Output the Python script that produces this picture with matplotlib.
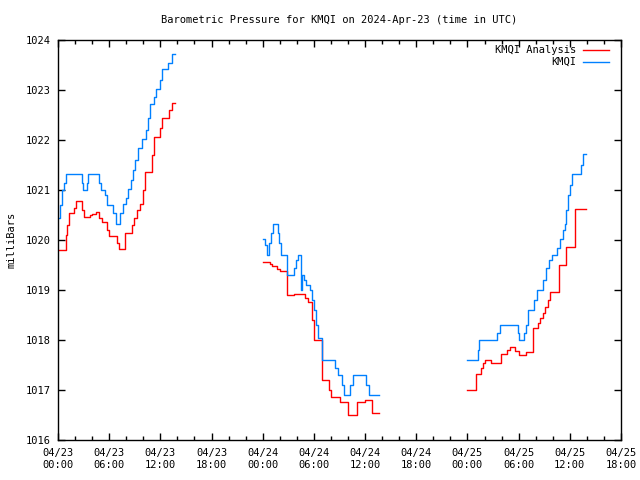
import matplotlib
matplotlib.use('Agg')
import matplotlib.pyplot as plt
import matplotlib.dates as mdates
import numpy as np
import pandas as pd

nan = float('nan')

# hours since 2024-04-23 00:00 UTC, nan rows break the line
analysis_hours = [0.0, 0.9, 1.1, 1.3, 1.9, 2.1, 2.85, 3.05, 3.7, 4.0, 4.5, 4.85, 5.1, 5.8, 6.0,
                  6.95, 7.1, 7.9, 8.7, 8.95, 9.3, 9.6, 10.0, 10.2, 11.0, 11.2, 12.0, 12.2, 13.0,
                  13.4, 13.7, 13.7,
                  24.0, 24.9, 25.1, 25.7, 26.0, 26.85, 27.7, 28.9, 29.3, 29.8, 30.0, 30.95, 31.75,
                  32.0, 33.0, 34.0, 35.0, 36.0, 36.8, 37.6, 37.6,
                  47.9, 49.0, 49.6, 49.8, 50.0, 50.8, 51.9, 52.6, 53.0, 53.6, 54.0, 54.85, 55.7,
                  56.3, 56.5, 56.8, 57.1, 57.4, 57.65, 58.7, 59.6, 60.6, 61.9]
analysis_mb = [1019.8, 1020.1, 1020.3, 1020.54, 1020.65, 1020.79, 1020.6, 1020.46, 1020.5, 1020.53,
               1020.56, 1020.45, 1020.36, 1020.2, 1020.08, 1019.95, 1019.82, 1020.14, 1020.3,
               1020.45, 1020.6, 1020.72, 1021.0, 1021.36, 1021.7, 1022.06, 1022.25, 1022.44,
               1022.6, 1022.74, 1022.74, nan,
               1019.56, 1019.52, 1019.48, 1019.43, 1019.38, 1018.9, 1018.92, 1018.85, 1018.76,
               1018.4, 1018.0, 1017.2, 1017.0, 1016.86, 1016.76, 1016.5, 1016.76, 1016.8,
               1016.54, 1016.54, nan,
               1017.0, 1017.32, 1017.45, 1017.55, 1017.6, 1017.54, 1017.72, 1017.8, 1017.86,
               1017.78, 1017.7, 1017.76, 1018.24, 1018.35, 1018.45, 1018.55, 1018.66, 1018.8,
               1018.96, 1019.5, 1019.86, 1020.62, 1020.62]

kmqi_hours = [0.0, 0.25, 0.5, 0.75, 0.9, 2.8, 2.9, 3.4, 3.5, 4.8, 5.0, 5.5, 5.8, 6.4, 6.8, 7.3,
              7.6, 8.0, 8.2, 8.5, 8.75, 9.0, 9.4, 9.8, 10.3, 10.55, 10.8, 11.3, 11.5, 11.95, 12.2,
              12.9, 13.4, 13.7, 13.7,
              24.0, 24.3, 24.45, 24.75, 24.95, 25.15, 25.75, 25.95, 26.1, 26.85, 27.7, 27.95,
              28.15, 28.5, 28.6, 28.8, 29.1, 29.5, 29.8, 30.0, 30.2, 30.5, 30.9, 32.5, 32.85,
              33.3, 33.55, 34.2, 34.6, 36.1, 36.4, 37.6, 37.6,
              47.9, 49.2, 49.4, 51.5, 51.8, 53.9, 54.1, 54.6, 54.85, 55.1, 55.8, 56.2, 56.8,
              57.2, 57.6, 57.9, 58.5, 58.8, 59.2, 59.4, 59.6, 59.8, 60.0, 60.2, 61.3, 61.6, 61.9]
kmqi_mb = [1020.45, 1020.7, 1021.0, 1021.15, 1021.32, 1021.15, 1021.0, 1021.15, 1021.32, 1021.15,
           1021.0, 1020.9, 1020.7, 1020.55, 1020.32, 1020.55, 1020.72, 1020.85, 1021.02, 1021.2,
           1021.4, 1021.6, 1021.85, 1022.02, 1022.2, 1022.45, 1022.72, 1022.87, 1023.02, 1023.2,
           1023.42, 1023.55, 1023.72, 1023.72, nan,
           1020.02, 1019.9, 1019.7, 1019.95, 1020.15, 1020.32, 1020.15, 1019.95, 1019.7, 1019.3,
           1019.45, 1019.6, 1019.7, 1019.0, 1019.3, 1019.2, 1019.1, 1019.0, 1018.8, 1018.6,
           1018.3, 1018.04, 1017.6, 1017.45, 1017.3, 1017.1, 1016.9, 1017.1, 1017.3, 1017.1,
           1016.9, 1016.9, nan,
           1017.6, 1017.8, 1018.0, 1018.15, 1018.3, 1018.15, 1018.0, 1018.15, 1018.3, 1018.6,
           1018.8, 1019.0, 1019.2, 1019.45, 1019.6, 1019.7, 1019.85, 1020.02, 1020.2, 1020.32,
           1020.6, 1020.9, 1021.1, 1021.32, 1021.5, 1021.72, 1021.72]

start = pd.Timestamp('2024-04-23 00:00')
end = pd.Timestamp('2024-04-25 18:00')

plt.rcParams['font.family'] = ['DejaVu Sans Mono']
plt.rcParams['font.size'] = 7.5

fig = plt.figure(figsize=(6.4, 4.8), dpi=100)
ax = fig.add_axes([58 / 640, 40 / 480, 563 / 640, 400 / 480])

t_an = start + pd.to_timedelta(analysis_hours, unit='h')
t_km = start + pd.to_timedelta(kmqi_hours, unit='h')
ax.step(t_an, analysis_mb, where='post', color='#ff0000', lw=1.0)
ax.step(t_km, kmqi_mb, where='post', color='#0080ff', lw=1.0)

ax.set_xlim(start, end)
ax.set_ylim(1016, 1024)
ax.set_yticks(np.arange(1016, 1025, 1))
ax.xaxis.set_major_locator(mdates.HourLocator(byhour=[0, 6, 12, 18]))
ax.xaxis.set_minor_locator(mdates.HourLocator(byhour=range(0, 24, 2)))
ax.xaxis.set_major_formatter(mdates.DateFormatter('%m/%d\n%H:%M'))
ax.tick_params(which='both', direction='in', top=True, right=True, width=1, color='black')
ax.tick_params(which='major', length=5, pad=6)
ax.tick_params(which='minor', length=3)
ax.tick_params(axis='y', pad=5)
for s in ax.spines.values():
    s.set_linewidth(1)

ax.set_ylabel('milliBars', labelpad=7)
fig.text(339 / 640, 1 - 20 / 480, 'Barometric Pressure for KMQI on 2024-Apr-23 (time in UTC)',
         ha='center', va='center')

# legend, gnuplot style: text right-aligned, sample on the right
for i, (name, col) in enumerate([('KMQI Analysis', '#ff0000'), ('KMQI', '#0080ff')]):
    yp = 1 - (10 + 12 * i) / 400
    ax.text((576 - 58) / 563, yp, name, transform=ax.transAxes, ha='right', va='center')
    ax.plot([(583 - 58) / 563, (609 - 58) / 563], [yp, yp], transform=ax.transAxes,
            color=col, lw=1.0)

plt.savefig('out.png', dpi=100)
plt.close()
